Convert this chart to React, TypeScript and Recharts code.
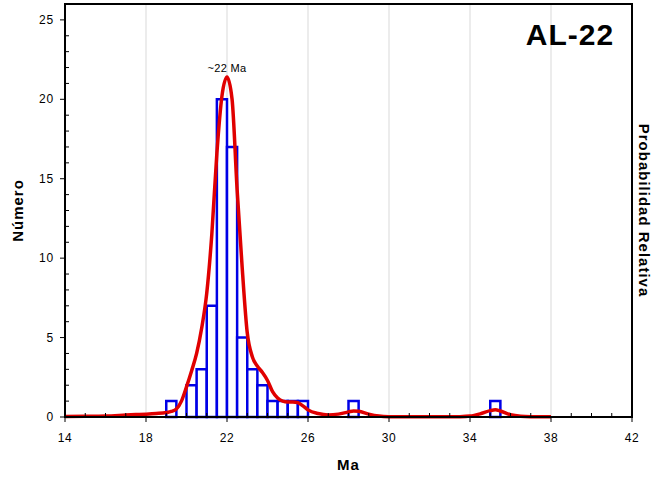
import {
  ComposedChart,
  Line,
  XAxis,
  YAxis,
  CartesianGrid,
  ReferenceArea,
  ReferenceDot,
} from 'recharts'

// histogram bins (0.5 Ma wide), lower edge and count
const binStart = [19, 20, 20.5, 21, 21.5, 22, 22.5, 23, 23.5, 24, 24.5, 25, 25.5, 28, 35]
const binCount = [1, 2, 3, 7, 20, 17, 5, 3, 2, 1, 1, 1, 1, 1, 1]

// relative probability curve, scaled to the count axis
const curveAge = [
  14, 15, 16, 17, 17.5, 18, 18.5, 19, 19.25, 19.5, 19.75, 20, 20.25, 20.5, 20.75, 21,
  21.25, 21.5, 21.75, 22, 22.25, 22.5, 22.75, 23, 23.25, 23.5, 23.75, 24, 24.25, 24.5,
  24.75, 25, 25.25, 25.5, 25.75, 26, 26.5, 27, 27.5, 28, 28.25, 28.5, 29, 29.5, 30, 31,
  32, 33, 33.5, 34, 34.5, 35, 35.25, 35.5, 36, 36.5, 37, 38,
]
const curveProb = [
  0.03, 0.04, 0.06, 0.12, 0.15, 0.18, 0.22, 0.28, 0.35, 0.5, 1.0, 1.9, 2.9, 4.0, 5.6, 7.8,
  11.5, 16.6, 20.2, 21.4, 20.0, 14.3, 9.4, 5.3, 3.8, 3.2, 2.8, 2.3, 1.6, 1.2,
  1.0, 0.95, 0.95, 0.9, 0.7, 0.45, 0.22, 0.13, 0.18, 0.32, 0.38, 0.36, 0.18, 0.06, 0.02, 0.01,
  0.01, 0.01, 0.02, 0.06, 0.2, 0.4, 0.45, 0.38, 0.15, 0.05, 0.02, 0.01,
]

const xTicks = [14, 18, 22, 26, 30, 34, 38, 42]
const yTicks = [0, 5, 10, 15, 20, 25]
const gridX = [18, 22, 26, 30, 34, 38]
const xMinor = Array.from({ length: 29 }, (_, i) => 14 + i)
const yMinor = Array.from({ length: 27 }, (_, i) => i)

const FONT = '"Liberation Sans", Arial, sans-serif'
const RED = '#e00000'
const BLUE = '#0000e6'
const titleStyle = { fontFamily: FONT, fontSize: 15, fontWeight: 'bold', fill: '#000', letterSpacing: 1 }

const XTick = (props: any) => {
  const { x, y, payload } = props
  const major = xTicks.includes(payload.value)
  if (!major) return <line x1={x} x2={x} y1={y} y2={y - 4} stroke="#000" />
  return (
    <g>
      <line x1={x} x2={x} y1={y} y2={y + 5} stroke="#000" />
      <text x={x} y={y + 25} textAnchor="middle" fontSize={12} letterSpacing={0.6} fontFamily={FONT} fill="#000">
        {payload.value}
      </text>
    </g>
  )
}

const YTick = (props: any) => {
  const { x, y, payload } = props
  const major = yTicks.includes(payload.value)
  if (!major) return <line x1={x} x2={x + 4} y1={y} y2={y} stroke="#000" />
  return (
    <g>
      <line x1={x} x2={x - 5} y1={y} y2={y} stroke="#000" />
      <text x={x - 11} y={y + 4} textAnchor="end" fontSize={12} letterSpacing={0.8} fontFamily={FONT} fill="#000">
        {payload.value}
      </text>
    </g>
  )
}

export default function App() {
  const curveData = curveAge.map((age, i) => ({ age, prob: curveProb[i] }))

  return (
    <div style={{ position: 'absolute', left: 0, top: 0, width: 653, height: 477, background: '#fff' }}>
      <ComposedChart
        width={653}
        height={477}
        data={curveData}
        margin={{ top: 4, right: 0, bottom: 0, left: 8 }}
      >
        <CartesianGrid horizontal={false} verticalValues={gridX} stroke="#d9d9d9" />
        <XAxis
          dataKey="age"
          type="number"
          domain={[14, 42]}
          ticks={xMinor}
          interval={0}
          tick={<XTick />}
          tickLine={false}
          tickSize={0}
          tickMargin={0}
          axisLine={{ stroke: '#000', strokeWidth: 2 }}
          height={60}
          label={{ value: 'Ma', position: 'insideBottom', offset: 7, style: titleStyle }}
        />
        <YAxis
          type="number"
          domain={[0, 26]}
          ticks={yMinor}
          interval={0}
          tick={<YTick />}
          tickLine={false}
          tickSize={0}
          tickMargin={0}
          width={57}
          axisLine={{ stroke: '#000', strokeWidth: 2 }}
          label={{
            value: 'Número',
            angle: -90,
            position: 'insideLeft',
            offset: 10,
            style: { ...titleStyle, textAnchor: 'middle' },
          }}
        />
        <YAxis
          yAxisId="right"
          orientation="right"
          width={21}
          tick={false}
          tickLine={false}
          axisLine={{ stroke: '#000', strokeWidth: 2 }}
          label={{
            value: 'Probabilidad Relativa',
            angle: 90,
            position: 'insideRight',
            offset: 9,
            style: { ...titleStyle, textAnchor: 'middle' },
          }}
        />
        <ReferenceArea x1={14} x2={42} y1={0} y2={26} fill="none" stroke="#000" strokeWidth={2} />
        {binStart.map((start, i) => (
          <ReferenceArea
            key={start}
            x1={start}
            x2={start + 0.5}
            y1={0}
            y2={binCount[i]}
            fill="#fff"
            fillOpacity={1}
            stroke={BLUE}
            strokeWidth={2.5}
          />
        ))}
        <Line
          type="monotone"
          dataKey="prob"
          stroke={RED}
          strokeWidth={3.5}
          dot={false}
          isAnimationActive={false}
        />
        <ReferenceDot
          x={22}
          y={21.4}
          r={0}
          stroke="none"
          label={{
            value: '~22 Ma',
            position: 'top',
            offset: 5,
            style: { fontFamily: FONT, fontSize: 11, fill: '#000', letterSpacing: 0.3 },
          }}
        />
      </ComposedChart>
      <div
        style={{
          position: 'absolute',
          left: 520,
          top: 17,
          width: 100,
          textAlign: 'center',
          fontFamily: FONT,
          fontWeight: 'bold',
          fontSize: 30,
          letterSpacing: 1,
          lineHeight: '36px',
          color: '#000',
        }}
      >
        AL-22
      </div>
    </div>
  )
}
